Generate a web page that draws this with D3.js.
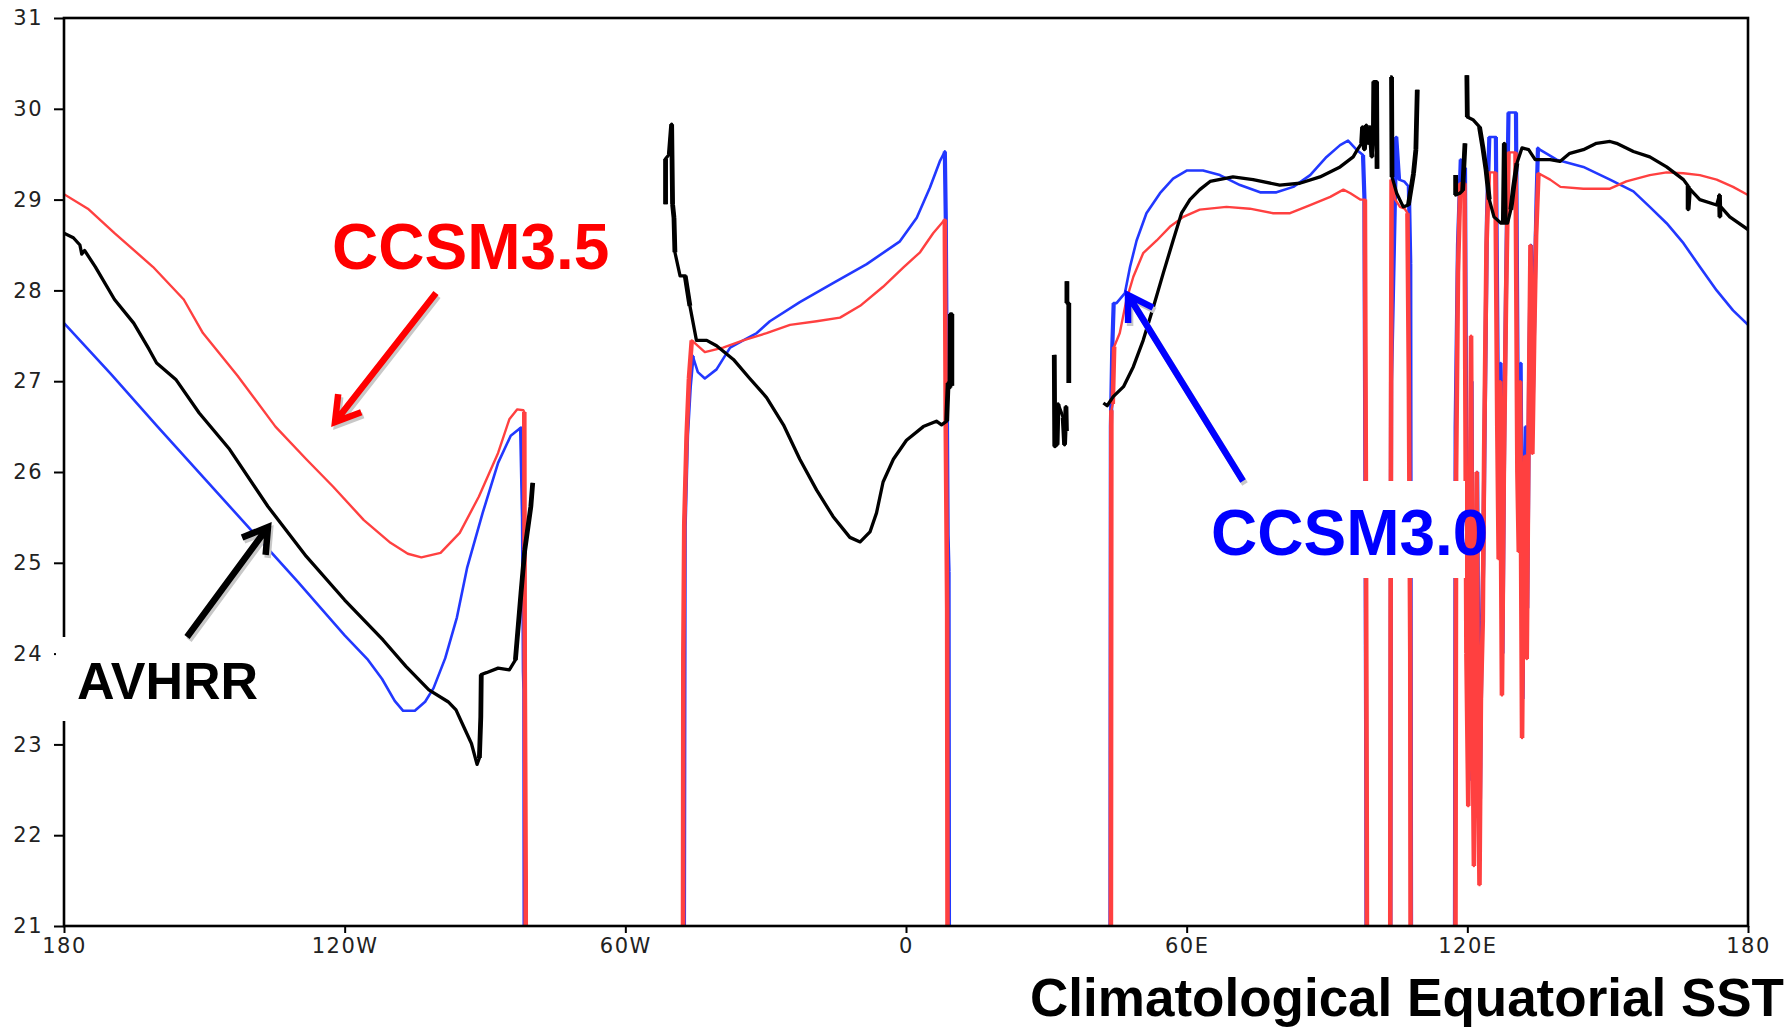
<!DOCTYPE html>
<html><head><meta charset="utf-8">
<script src="https://cdn.jsdelivr.net/npm/d3@7"></script>
<style>html,body{margin:0;padding:0;background:#fff;} svg{display:block;}</style>
</head><body>
<svg id="chart" width="1791" height="1029"></svg>
<script>
// ---------------- DATA ----------------
const LAND = 15; // model values over land / below plotted range
const xTickValues = [-180, -120, -60, 0, 60, 120, 180];
const xTickLabels = ["180", "120W", "60W", "0", "60E", "120E", "180"];
const yTickValues = [21, 22, 23, 24, 25, 26, 27, 28, 29, 30, 31];
const seriesNames = ["CCSM3.0", "CCSM3.5", "AVHRR"];

// CCSM3.5 (red) : [longitude, SST]
const ccsm35 = [
[-180,29.06],[-174.9,28.90],[-169.2,28.63],[-161,28.26],[-154.4,27.90],[-150.3,27.53],[-142.9,27.06],[-134.8,26.50],[-128.2,26.14],[-122.5,25.84],[-115.9,25.47],[-110.2,25.22],[-106.5,25.10],[-103.6,25.06],[-99.5,25.11],[-95.4,25.33],[-91.3,25.73],[-87.2,26.21],[-84.8,26.58],[-83.1,26.69],[-81.8,26.68],[-81.6,26.66],[-81.5,23.8],[-81.3,21.5],[-81.2,LAND],
[-47.8,LAND],[-47.6,24.0],[-47.4,25.43],[-46.9,26.40],[-46.4,27.03],[-45.8,27.45],[-43.0,27.32],[-39.1,27.37],[-34.8,27.45],[-29.8,27.53],[-24.8,27.62],[-19.1,27.66],[-14.1,27.70],[-9.8,27.83],[-4.9,28.04],[-0.6,28.25],[3.0,28.42],[5.8,28.63],[8.3,28.78],[8.5,26.5],[8.8,24.5],[9.0,LAND],
[43.7,LAND],[43.9,26.68],[44.2,26.75],[44.5,27.38],[45.7,27.53],[47.1,27.89],[48.6,28.15],[50.7,28.41],[53.6,28.55],[56.4,28.70],[59.3,28.81],[62.8,28.89],[68.5,28.92],[73.5,28.90],[78.5,28.85],[82.1,28.85],[86.4,28.94],[90.7,29.03],[93.5,29.11],[95.0,29.07],[97.1,29.00],[98.1,29.00],[98.3,26.0],[98.5,22.0],[98.7,LAND],
[103.4,LAND],[103.6,24.5],[103.8,29.22],[104.6,29.00],[105.6,28.92],[106.6,28.90],[107.2,28.85],[107.5,27.0],[107.8,24.0],[108.0,LAND],
[117.3,LAND],[117.6,26.0],[118.0,28.2],[118.5,29.18],[119.4,29.18],
[119.8,24.0],[120.2,22.32],[120.5,25.0],[120.8,27.5],[121.1,23.5],[121.4,21.66],[121.7,24.0],[122.0,26.0],[122.3,23.0],[122.6,21.45],[122.9,23.5],[123.3,24.36],[123.6,26.25],[124.1,28.5],[124.6,29.30],[126.0,29.30],
[126.4,26.5],[126.7,25.04],[127.0,27.0],[127.4,23.54],[127.8,26.0],[128.3,28.0],[128.8,29.52],[130.3,29.52],
[130.7,26.0],[131.0,25.12],[131.3,27.0],[131.7,23.07],[132.0,25.0],[132.4,26.18],[132.7,23.94],[133.1,26.5],[133.5,28.5],[133.9,26.2],[134.3,27.5],[134.7,28.6],[135.2,29.29],
[137.7,29.22],[139.9,29.14],[144.8,29.12],[150.5,29.12],[154.0,29.20],[159.0,29.27],[162.6,29.30],[166.2,29.29],[169.7,29.27],[173.3,29.22],[176.8,29.14],[180,29.05]
];

// CCSM3.0 (blue)
const ccsm30 = [
[-180,27.64],[-170,27.08],[-160,26.50],[-150,25.93],[-140,25.36],[-130,24.79],[-120,24.20],[-115,23.93],[-112,23.72],[-109.3,23.48],[-107.5,23.37],[-105,23.37],[-102.8,23.47],[-101,23.62],[-98.5,23.95],[-96,24.40],[-93.8,24.95],[-90.5,25.55],[-87.2,26.10],[-84.5,26.40],[-82.3,26.49],[-81.9,25.5],[-81.7,23.8],[-81.6,23.6],[-81.4,LAND],
[-47.7,LAND],[-47.3,25.40],[-46.8,26.40],[-46.2,26.94],[-45.6,27.28],[-44.5,27.10],[-43.0,27.03],[-40.5,27.13],[-37.6,27.37],[-34.8,27.45],[-31.9,27.53],[-29.1,27.66],[-22.7,27.87],[-15.6,28.08],[-8.4,28.29],[-1.3,28.54],[2.3,28.80],[5.1,29.13],[7.3,29.43],[8.3,29.53],[8.5,28.8],[8.9,25.3],[9.1,24.9],[9.3,LAND],
[43.6,LAND],[43.8,26.5],[44.1,27.38],[44.4,27.86],[45.0,27.86],[46.8,27.97],[47.9,28.26],[49.3,28.55],[51.4,28.85],[54.3,29.07],[57.1,29.23],[60.0,29.32],[63.5,29.32],[67.1,29.27],[71.4,29.16],[75.7,29.08],[79.2,29.08],[82.8,29.14],[86.4,29.27],[89.9,29.47],[92.8,29.60],[94.5,29.65],[96.3,29.55],[97.7,29.49],[98.0,29.02],[98.2,26.0],[98.4,22.5],[98.6,LAND],
[103.4,LAND],[103.7,27.0],[104.6,29.2],[104.8,29.69],[105.4,29.22],[106.5,29.20],[107.5,29.14],[107.8,28.3],[108.1,LAND],
[117.2,LAND],[117.5,26.5],[118.0,28.5],[118.6,29.44],[119.5,29.35],[119.9,24.5],[120.3,22.6],[120.6,25.5],[120.9,27.0],[121.2,23.5],[121.5,22.5],[121.8,24.0],[122.1,26.0],[122.4,23.2],[122.7,22.4],[123.0,24.0],[123.4,25.0],[123.7,26.5],[124.2,28.8],[124.7,29.69],[126.1,29.69],
[126.5,27.0],[126.8,25.5],[127.1,27.2],[127.5,24.0],[127.9,26.5],[128.4,28.5],[128.8,29.96],[130.4,29.96],
[130.8,26.5],[131.1,25.5],[131.4,27.2],[131.8,23.5],[132.1,25.3],[132.5,26.5],[132.8,24.5],[133.2,27.0],[133.6,28.5],[134.0,26.8],[134.4,28.0],[134.8,29.0],[135.1,29.57],
[135.5,29.55],[139.1,29.44],[144.8,29.36],[150.5,29.22],[155.5,29.09],[159.0,28.92],[162.6,28.74],[166.2,28.52],[169.7,28.26],[173.3,28.00],[176.8,27.78],[180,27.62]
];

// AVHRR observations (black); null = no ocean data
const avhrr = [
[-180,28.63],[-178,28.58],[-176.6,28.50],[-176.2,28.40],[-175.6,28.44],[-173.3,28.26],[-169.2,27.90],[-165.1,27.64],[-161.8,27.35],[-160.2,27.20],[-156.1,27.02],[-151.1,26.65],[-144.6,26.25],[-136.4,25.62],[-128.2,25.07],[-120,24.59],[-111.8,24.15],[-106.9,23.86],[-102,23.60],[-97.9,23.47],[-96.2,23.38],[-94.6,23.20],[-92.9,23.01],[-91.7,22.78],[-91.2,22.85],[-90.9,23.30],[-90.8,23.77],[-89.7,23.79],[-87.2,23.84],[-84.8,23.82],[-83.5,23.93],[-82.3,24.67],[-81.5,25.14],[-80.2,25.62],[-79.8,25.88],[-79.5,null],
[-51.4,28.95],[-51.4,29.45],[-50.6,29.50],[-50.1,29.83],[-49.9,28.95],[-49.6,28.80],[-49.4,28.42],[-48.3,28.16],[-47.2,28.16],[-46.2,27.83],[-44.8,27.45],[-42.6,27.45],[-40.5,27.39],[-36.9,27.24],[-33.4,27.03],[-29.8,26.82],[-26.2,26.52],[-22.7,26.14],[-19.1,25.80],[-15.6,25.51],[-12.0,25.28],[-9.8,25.23],[-7.7,25.34],[-6.3,25.55],[-4.9,25.89],[-2.7,26.14],[0.1,26.35],[3.7,26.50],[6.5,26.56],[7.6,26.52],[8.7,26.56],[9.0,26.98],[9.4,26.93],[9.5,27.74],[9.8,27.74],[9.8,26.95],[10,null],
[31.7,27.29],[31.8,26.28],[32.3,26.30],[32.5,26.75],[33.6,26.60],[33.9,26.30],[34.2,26.72],[34.3,26.45],[34.35,null],
[34.4,28.10],[34.4,27.86],[34.8,27.86],[34.8,26.98],[35,null],
[42.2,26.76],[43.0,26.73],[44.3,26.83],[46.5,26.94],[48.6,27.16],[50.7,27.45],[52.9,27.82],[55.0,28.19],[57.1,28.55],[58.9,28.85],[60.7,29.00],[62.8,29.11],[65.0,29.20],[69.9,29.25],[74.2,29.22],[79.9,29.16],[84.2,29.18],[88.5,29.25],[92.8,29.36],[95.6,29.47],[96.5,29.55],[97.4,29.62],[97.6,29.80],[98.0,29.55],[98.4,29.82],[98.8,29.62],[99.2,29.80],[99.6,29.47],[99.9,29.60],[100.0,30.30],[100.6,30.30],[100.7,29.34],[101,null],
[103.5,30.35],[103.8,30.35],[103.9,29.25],[104.9,29.07],[106.3,28.92],[107.4,28.94],[108.5,29.29],[109.0,29.55],[109.3,30.21],[110,null],
[117.5,29.27],[117.5,29.05],[118.4,29.07],[119.0,29.10],[119.5,29.62],[119.7,null],
[119.9,30.37],[120.0,29.91],[121.2,29.88],[122.6,29.80],[123.3,29.58],[124.0,29.33],[124.7,29.00],[125.7,28.81],[127.2,28.74],[127.7,28.74],[127.9,29.62],[128.1,28.74],[128.6,28.74],[129.3,28.89],[129.9,29.14],[130.6,29.40],[131.7,29.57],[133.1,29.55],[134.5,29.44],[137.7,29.44],[139.8,29.42],[141.9,29.51],[144.8,29.55],[147.6,29.62],[150.5,29.64],[151.9,29.62],[155.5,29.53],[159.0,29.47],[162.6,29.36],[166.2,29.22],[167.2,29.15],[167.2,28.89],[167.5,29.12],[169.7,29.00],[173.3,28.94],[173.9,29.05],[174.0,28.81],[174.2,28.92],[176.1,28.81],[180,28.67]
];

// ---------------- LAYOUT ----------------
const plot = {left: 64, right: 1748, top: 18, bottom: 926};
const svg = d3.select("#chart");

const x = d3.scaleLinear().domain([-180, 180]).range([plot.left, plot.right]);
const y = d3.scaleLinear().domain([21, 31]).range([plot.bottom, plot.top]);

svg.append("defs").append("clipPath").attr("id", "clip")
  .append("rect").attr("x", plot.left).attr("y", plot.top)
  .attr("width", plot.right - plot.left).attr("height", plot.bottom - plot.top);

const line = d3.line()
  .defined(d => d[1] !== null)
  .x(d => x(d[0])).y(d => y(d[1]));

// steep (near-vertical) segments of a series, drawn again a bit heavier,
// as in the original raster plot
function steepPath(data) {
  let p = "";
  for (let i = 1; i < data.length; i++) {
    const a = data[i - 1], b = data[i];
    if (a[1] === null || b[1] === null) continue;
    const dx = Math.abs(x(b[0]) - x(a[0])), dy = Math.abs(y(b[1]) - y(a[1]));
    if (dy > 12 && dy > 6 * dx) p += `M${x(a[0])},${y(a[1])}L${x(b[0])},${y(b[1])}`;
  }
  return p;
}

const lines = svg.append("g").attr("clip-path", "url(#clip)");
const styles = [
  {data: ccsm30, color: "#2238ff", width: 2.6, steep: 4.2},
  {data: ccsm35, color: "#ff4040", width: 2.4, steep: 4.6},
  {data: avhrr,  color: "#000000", width: 3.3, steep: 4.8}
];
styles.forEach((s, i) => {
  lines.append("path").datum(s.data)
    .attr("class", "series " + seriesNames[i])
    .attr("d", line).attr("fill", "none")
    .attr("stroke", s.color).attr("stroke-width", s.width)
    .attr("stroke-linejoin", "round").attr("stroke-linecap", "butt");
  lines.append("path").attr("d", steepPath(s.data)).attr("fill", "none")
    .attr("stroke", s.color).attr("stroke-width", s.steep).attr("stroke-linecap", "butt");
});

// axes
const tickFont = "'DejaVu Sans', sans-serif";
const yAxis = d3.axisLeft(y).tickValues(yTickValues).tickSize(10).tickPadding(11)
  .tickFormat(d3.format("d"));
const gy = svg.append("g").attr("transform", `translate(${plot.left},0)`).call(yAxis);
const xAxis = d3.axisBottom(x).tickValues(xTickValues).tickSize(7).tickPadding(5)
  .tickFormat((d, i) => xTickLabels[i]);
const gx = svg.append("g").attr("transform", `translate(0,${plot.bottom})`).call(xAxis);
[gx, gy].forEach(g => {
  g.select(".domain").remove();
  g.selectAll("line").attr("stroke", "#000").attr("stroke-width", 2);
  g.selectAll("text").attr("font-family", tickFont).attr("font-size", 21)
    .attr("fill", "#222").attr("letter-spacing", 1.5);
});

// frame
svg.append("rect").attr("x", plot.left).attr("y", plot.top)
  .attr("width", plot.right - plot.left).attr("height", plot.bottom - plot.top)
  .attr("fill", "none").attr("stroke", "#000").attr("stroke-width", 2.6);

// ---------------- ANNOTATIONS ----------------
const labelFont = "'Liberation Sans', Arial, sans-serif";
const annotations = [
  {text: "CCSM3.5", color: "#ff0000", tx: 332, ty: 269, size: 64, box: null,
   from: [436, 293], to: [335, 422]},
  {text: "CCSM3.0", color: "#0000ff", tx: 1211, ty: 555, size: 64, box: [1200, 481, 265, 97],
   from: [1243, 481], to: [1128, 295]},
  {text: "AVHRR", color: "#000000", tx: 77, ty: 699, size: 52, box: [56, 637, 222, 84],
   from: [187, 637], to: [268, 527]}
];
annotations.forEach(a => {
  if (a.box) {
    svg.append("rect").attr("x", a.box[0]).attr("y", a.box[1])
      .attr("width", a.box[2]).attr("height", a.box[3]).attr("fill", "#fff");
  }
});
annotations.forEach(a => {
  svg.append("text").attr("x", a.tx).attr("y", a.ty).text(a.text)
    .attr("font-family", labelFont).attr("font-weight", "bold")
    .attr("font-size", a.size).attr("fill", a.color);
  const [x1, y1] = a.from, [x2, y2] = a.to;
  const ang = Math.atan2(y1 - y2, x1 - x2);
  const L = 28, spread = 0.55;
  const b1 = [x2 + L * Math.cos(ang - spread), y2 + L * Math.sin(ang - spread)];
  const b2 = [x2 + L * Math.cos(ang + spread), y2 + L * Math.sin(ang + spread)];
  const d = `M${x1},${y1}L${x2},${y2}M${b1[0]},${b1[1]}L${x2},${y2}L${b2[0]},${b2[1]}`;
  svg.append("path").attr("d", d).attr("transform", "translate(2,3)")
    .attr("fill", "none").attr("stroke", "#c8c8c8").attr("stroke-width", 6.5)
    .attr("stroke-linecap", "butt").attr("stroke-linejoin", "miter");
  svg.append("path").attr("d", d)
    .attr("fill", "none").attr("stroke", a.color).attr("stroke-width", 6.5)
    .attr("stroke-linecap", "butt").attr("stroke-linejoin", "miter");
});

// title
svg.append("text").attr("x", 1784).attr("y", 1016).attr("text-anchor", "end")
  .text("Climatological Equatorial SST")
  .attr("font-family", labelFont).attr("font-weight", "bold")
  .attr("font-size", 53).attr("fill", "#000");
</script>
</body></html>
